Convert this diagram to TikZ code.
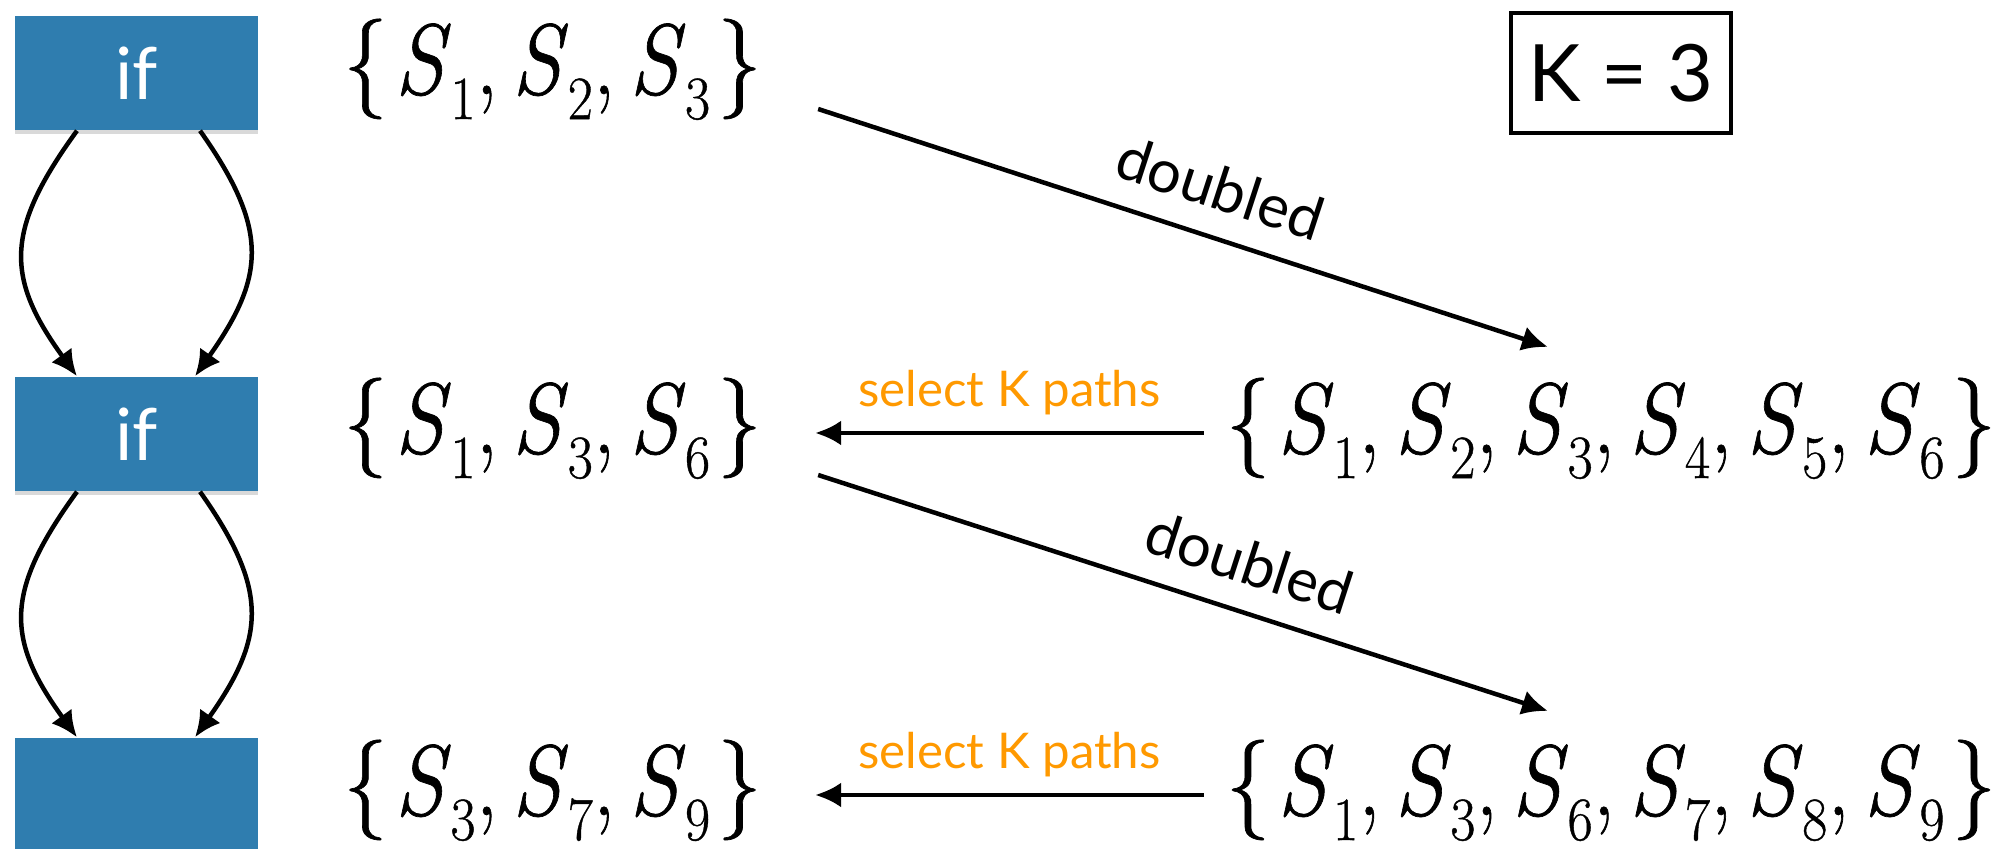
\documentclass[tikz,border=0pt]{standalone}
\usepackage{fontspec}
\newfontfamily\setfont{Latin Modern Roman}[FakeBold=0.7]
\newfontfamily\labelfont{Lato}
\usetikzlibrary{arrows.meta,shadows}
\definecolor{ifblue}{RGB}{47,125,175}
\definecolor{pathorange}{RGB}{255,153,0}
% an element S_n of a path set, with a lowered small index
\newcommand\Sx[1]{\textit{S}\raisebox{-0.25em}{\fontsize{17.5}{17.5}\selectfont #1}}
% separator between the elements of a set
\newcommand\sep{,\kern0.16em}
% a set of paths, slightly narrowed
\newcommand\setof[1]{\scalebox{0.89}[1]{\{\kern0.08em #1\kern0.08em\}}}

\begin{document}
\begin{tikzpicture}[x=0.01cm,y=-0.01cm,
  ifbox/.style={fill=ifblue, minimum width=2.43cm, minimum height=1.14cm, inner sep=0pt,
    text=white, font=\labelfont\fontsize{20.5}{20.5}\selectfont,
    drop shadow={opacity=0.3, shadow xshift=0cm, shadow yshift=-0.04cm}},
  setnode/.style={inner sep=0pt, anchor=base, font=\setfont\fontsize{28.5}{28.5}\selectfont},
  conn/.style={line width=0.045cm, -{Latex[length=0.26cm,width=0.25cm]}},
  selectlabel/.style={text=pathorange, inner sep=0pt, font=\labelfont\fontsize{14}{14}\selectfont},
  doublelabel/.style={inner sep=0pt, font=\labelfont\fontsize{17}{17}\selectfont},
]
\useasboundingbox (0,0) rectangle (2003,849);

% the three blocks of the program
\node[ifbox] (b1) at (136.5,73) {if};
\node[ifbox] (b2) at (136.5,434) {if};
\node[ifbox] (b3) at (136.5,795) {};

% both branches of each if lead to the next block
\draw[conn] ([xshift=-0.595cm]b1.south) .. controls +(-72,99) and +(-72,-99) .. ([xshift=-0.595cm]b2.north);
\draw[conn] ([xshift=0.635cm]b1.south) .. controls +(70,99) and +(70,-99) .. ([xshift=0.585cm]b2.north);
\draw[conn] ([xshift=-0.595cm]b2.south) .. controls +(-72,99) and +(-72,-99) .. ([xshift=-0.595cm]b3.north);
\draw[conn] ([xshift=0.635cm]b2.south) .. controls +(70,99) and +(70,-99) .. ([xshift=0.585cm]b3.north);

% path sets
\node[setnode] (l1) at (552.5,94) {\setof{\Sx1\sep\Sx2\sep\Sx3}};
\node[setnode] (l2) at (552.5,453) {\setof{\Sx1\sep\Sx3\sep\Sx6}};
\node[setnode] (l3) at (552.5,815) {\setof{\Sx3\sep\Sx7\sep\Sx9}};
\node[setnode] (r2) at (1611,453) {\setof{\Sx1\sep\Sx2\sep\Sx3\sep\Sx4\sep\Sx5\sep\Sx6}};
\node[setnode] (r3) at (1611,815) {\setof{\Sx1\sep\Sx3\sep\Sx6\sep\Sx7\sep\Sx8\sep\Sx9}};

% the bound on kept paths
\node[draw, line width=0.04cm, minimum width=2.20cm, minimum height=1.20cm, inner sep=0pt,
  font=\labelfont\fontsize{22.5}{22.5}\selectfont] (k) at (1621,73) {K = 3};

% doubling steps
\draw[conn] ([shift={(2.655cm,-0.15cm)}]l1.base) -- ([shift={(-0.63cm,1.06cm)}]r2.base)
  node[doublelabel, pos=0.53, sloped, above=0.25cm] {doubled};
\draw[conn] ([shift={(2.655cm,-0.22cm)}]l2.base) -- ([shift={(-0.63cm,1.04cm)}]r3.base)
  node[doublelabel, pos=0.57, sloped, above=0.25cm] {doubled};

% selection steps
\draw[conn] ([shift={(-4.07cm,0.2cm)}]r2.base) -- ([shift={(2.625cm,0.2cm)}]l2.base)
  node[selectlabel, midway, anchor=base, yshift=0.26cm] {select K paths};
\draw[conn] ([shift={(-4.07cm,0.2cm)}]r3.base) -- ([shift={(2.625cm,0.2cm)}]l3.base)
  node[selectlabel, midway, anchor=base, yshift=0.26cm] {select K paths};
\end{tikzpicture}
\end{document}
